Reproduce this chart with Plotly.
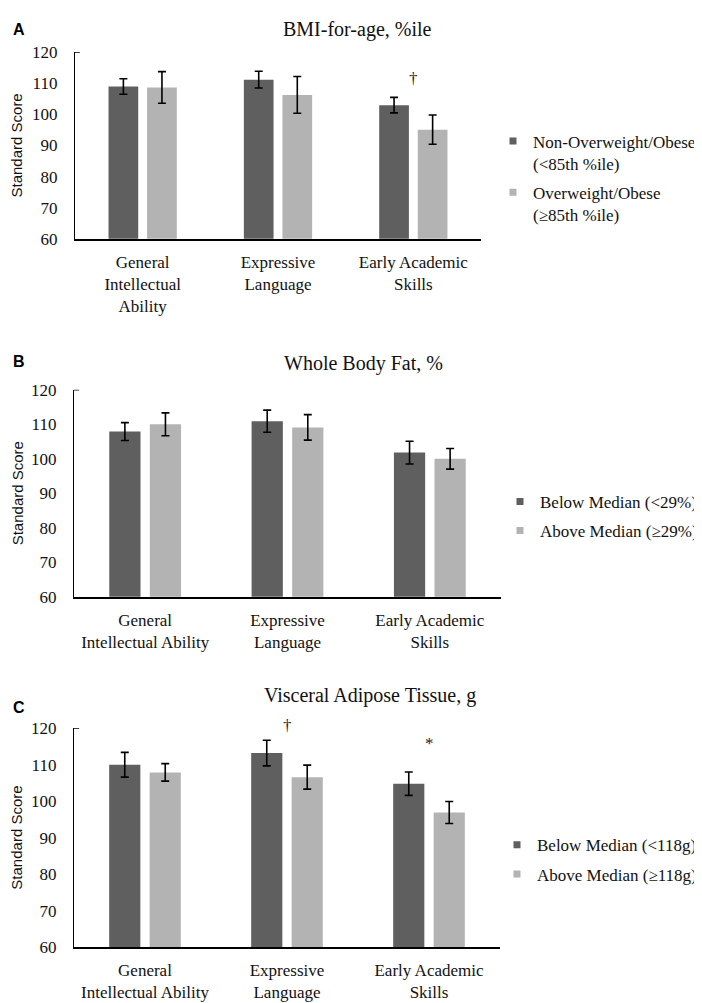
import plotly.graph_objects as go

# --- data ---
cats_a = ["General<br>Intellectual<br>Ability", "Expressive<br>Language", "Early Academic<br>Skills"]
cats_bc = ["General<br>Intellectual Ability", "Expressive<br>Language", "Early Academic<br>Skills"]

bmi_low = [109.0, 111.2, 103.0]
bmi_low_err = [2.5, 2.7, 2.5]
bmi_high = [108.7, 106.3, 95.1]
bmi_high_err = [5.1, 5.9, 4.7]

fat_low = [107.9, 110.9, 101.8]
fat_low_err = [2.6, 3.2, 3.3]
fat_high = [110.0, 109.1, 100.0]
fat_high_err = [3.3, 3.7, 3.0]

vat_low = [110.0, 113.2, 104.8]
vat_low_err = [3.4, 3.5, 3.2]
vat_high = [107.9, 106.6, 96.9]
vat_high_err = [2.4, 3.3, 3.0]

titles = ["BMI-for-age, %ile", "Whole Body Fat, %", "Visceral Adipose Tissue, g"]
letters = ["A", "B", "C"]
legend_names = [
    ["Non-Overweight/Obese<br>(&lt;85th %ile)", "Overweight/Obese<br>(≥85th %ile)"],
    ["Below Median (&lt;29%)", "Above Median (≥29%)"],
    ["Below Median (&lt;118g)", "Above Median (≥118g)"],
]
# significance marks: (panel, category index, y value, symbol)
marks = [
    (0, 2, 111.5, "†"),
    (2, 1, 120.0, "†"),
    (2, 2, 115.8, "*"),
]

DARK = "#5f5f5f"
LIGHT = "#b3b3b3"
MARK = "#2a2118"
SERIF = "Liberation Serif"
SANS = "Liberation Sans"
W, H = 702, 1003

panels = [
    (cats_a, bmi_low, bmi_low_err, bmi_high, bmi_high_err),
    (cats_bc, fat_low, fat_low_err, fat_high, fat_high_err),
    (cats_bc, vat_low, vat_low_err, vat_high, vat_high_err),
]
# pixel geometry of each panel: x left, x right, y top (120), y bottom (60)
geom = [(67, 473, 36, 226), (66, 493, 380, 591), (66, 492, 725, 948)]
title_pos = [(349, 13), (355, 353), (362, 692)]
letter_pos = [(11, 13), (11, 351), (11, 704)]
legend_pos = [(485, 164), (492, 509), (489, 859)]

fig = go.Figure()
layout = dict(width=W, height=H, margin=dict(l=0, r=0, t=0, b=0),
              paper_bgcolor="white", plot_bgcolor="white",
              barmode="group", bargap=0.43, bargroupgap=0.23,
              annotations=[], shapes=[])

for i, (cats, lo, lo_e, hi, hi_e) in enumerate(panels):
    sfx = "" if i == 0 else str(i + 1)
    xa, ya = "x" + sfx, "y" + sfx
    leg = "legend" + sfx
    for vals, errs, col, name in [(lo, lo_e, DARK, legend_names[i][0]),
                                  (hi, hi_e, LIGHT, legend_names[i][1])]:
        fig.add_trace(go.Bar(x=cats, y=vals, marker=dict(color=col, line=dict(width=0)),
                             showlegend=False, xaxis=xa, yaxis=ya,
                             error_y=dict(type="data", array=errs, color="black",
                                          thickness=1.6, width=4)))
        # legend swatch (small square like the original)
        fig.add_trace(go.Scatter(x=[None], y=[None], mode="markers", name=name,
                                 marker=dict(symbol="square", size=7, color=col),
                                 xaxis=xa, yaxis=ya, legend=leg, legendgroup=name))
    x0, x1, y0, y1 = geom[i]
    layout["xaxis" + sfx] = dict(domain=[x0 / W, x1 / W], anchor=ya, type="category",
                                 categoryorder="array", categoryarray=cats,
                                 showline=True, linecolor="black", linewidth=1.5,
                                 showgrid=False, zeroline=False, ticks="",
                                 ticklabelstandoff=7,
                                 tickfont=dict(family=SERIF, size=17, color="#111"))
    layout["yaxis" + sfx] = dict(domain=[1 - y1 / H, 1 - y0 / H], anchor=xa,
                                 range=[60, 120], dtick=10, showline=True,
                                 linecolor="black", linewidth=1.3, showgrid=False,
                                 zeroline=False, ticks="", ticklabelstandoff=13,
                                 tickfont=dict(family=SERIF, size=17, color="#111"))
    layout["shapes"].append(dict(type="line", xref=xa + " domain", yref=ya,
                                 x0=0, x1=0.012, y0=120, y1=120,
                                 line=dict(color="black", width=1.3)))
    lx, ly = legend_pos[i]
    layout[leg] = dict(x=lx / W, y=1 - ly / H, xanchor="left", yanchor="middle",
                       bgcolor="rgba(0,0,0,0)", valign="top", tracegroupgap=4,
                       traceorder="grouped",
                       font=dict(family=SERIF, size=17, color="#111"))
    tx, ty = title_pos[i]
    layout["annotations"].append(dict(text=titles[i], x=tx / W, y=1 - ty / H,
                                      xref="paper", yref="paper", showarrow=False,
                                      xanchor="center", yanchor="middle",
                                      font=dict(family=SERIF, size=20, color="#111")))
    lx2, ly2 = letter_pos[i]
    layout["annotations"].append(dict(text="<b>" + letters[i] + "</b>", x=lx2 / W,
                                      y=1 - ly2 / H, xref="paper", yref="paper",
                                      showarrow=False, xanchor="center", yanchor="middle",
                                      font=dict(family=SANS, size=16, color="black")))
    layout["annotations"].append(dict(text="Standard Score", textangle=-90,
                                      x=9 / W, y=1 - (y0 + y1) / 2 / H,
                                      xref="paper", yref="paper", showarrow=False,
                                      xanchor="center", yanchor="middle",
                                      font=dict(family=SANS, size=15, color="#111")))

for p, ci, yv, sym in marks:
    sfx = "" if p == 0 else str(p + 1)
    cats = panels[p][0]
    layout["annotations"].append(dict(text=sym, x=cats[ci], y=yv, xref="x" + sfx,
                                      yref="y" + sfx, showarrow=False,
                                      xanchor="center", yanchor="middle",
                                      yshift=3 if yv >= 120 else 0,
                                      font=dict(family=SERIF, size=17, color=MARK)))

fig.update_layout(**layout)
fig.write_html("out.html")
